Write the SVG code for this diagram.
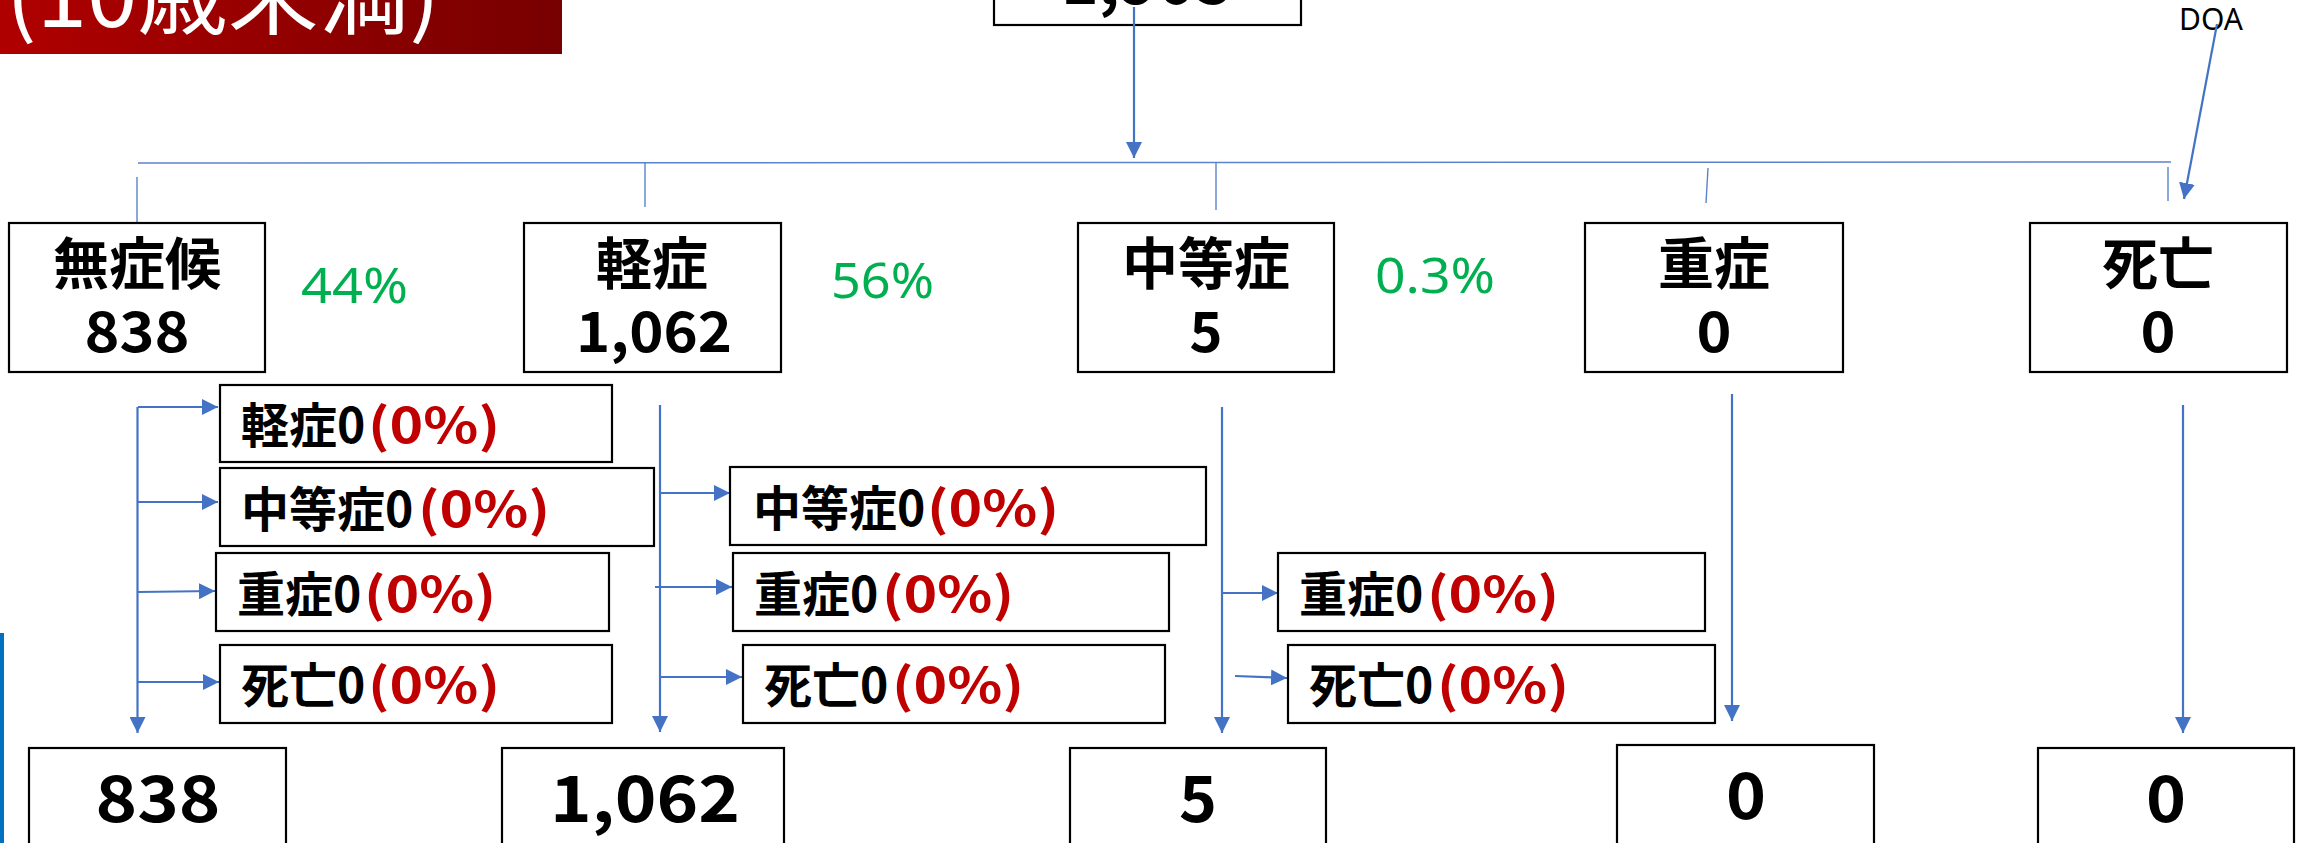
<svg xmlns="http://www.w3.org/2000/svg" width="2299" height="843" viewBox="0 0 2299 843">
<defs>
<linearGradient id="bannerGrad" x1="0" y1="0" x2="1" y2="0">
<stop offset="0" stop-color="#B00000"/>
<stop offset="1" stop-color="#770000"/>
</linearGradient>
<marker id="ah" markerUnits="userSpaceOnUse" markerWidth="16" markerHeight="16" viewBox="0 0 16 16" refX="16" refY="8" orient="auto">
<path d="M0,0 L16,8 L0,16 z" fill="#4472C4"/>
</marker>
</defs>
<style>
.box{fill:#FFFFFF;stroke:#000000;stroke-width:2.2}
.lbl{font-family:"Noto Sans CJK JP","Noto Sans",sans-serif;font-weight:700;fill:#000000}
.big{font-size:56px;text-anchor:middle}
.bot{font-size:64px;text-anchor:middle}
.sub{font-size:48px}
.red{fill:#C00000}
.pct{font-family:"Noto Sans","Noto Sans CJK JP",sans-serif;font-size:50px;fill:#00B050}
.arr{stroke:#4472C4;stroke-width:2.2;fill:none;marker-end:url(#ah)}
.thin{stroke:#5B83CC;stroke-width:1.4;fill:none}
</style>
<rect width="2299" height="843" fill="#FFFFFF"/>

<g id="title">
<rect x="0" y="0" width="562" height="54" fill="url(#bannerGrad)"/>
<text x="6" y="27" font-family="Noto Sans CJK JP, sans-serif" font-size="88" fill="#FFFFFF" textLength="434" lengthAdjust="spacingAndGlyphs">(10歳未満)</text>
</g>

<g id="total">
<rect class="box" x="994" y="-20" width="307" height="45"/>
<text class="lbl bot" x="1147" y="4">1,905</text>
</g>

<g id="doa">
<text x="2179" y="30" font-family="Noto Sans, sans-serif" font-size="30" fill="#000000">DOA</text>
</g>

<g id="connectors">
<line class="thin" x1="138" y1="163" x2="2171" y2="162"/>
<line class="arr" x1="1134" y1="7" x2="1134" y2="158"/>
<line class="arr" x1="2217" y1="24" x2="2184" y2="199"/>
<line class="thin" x1="137" y1="177" x2="137" y2="222"/>
<line class="thin" x1="645" y1="162" x2="645" y2="207"/>
<line class="thin" x1="1216" y1="163" x2="1216" y2="210"/>
<line class="thin" x1="1708" y1="168" x2="1706" y2="203"/>
<line class="thin" x1="2168" y1="167" x2="2168" y2="201"/>

<line class="arr" x1="137.5" y1="407" x2="137.5" y2="733"/>
<line class="arr" x1="138" y1="407" x2="218" y2="407"/>
<line class="arr" x1="138" y1="502" x2="218" y2="502"/>
<line class="arr" x1="138" y1="592" x2="215" y2="591"/>
<line class="arr" x1="138" y1="682" x2="219" y2="682"/>

<line class="arr" x1="660" y1="405" x2="660" y2="732"/>
<line class="arr" x1="660" y1="493" x2="730" y2="493"/>
<line class="arr" x1="655" y1="587" x2="732" y2="587"/>
<line class="arr" x1="660" y1="677" x2="742" y2="677"/>

<line class="arr" x1="1222" y1="407" x2="1222" y2="733"/>
<line class="arr" x1="1222" y1="593" x2="1278" y2="593"/>
<line class="arr" x1="1235" y1="676" x2="1287" y2="678"/>

<line class="arr" x1="1732" y1="394" x2="1732" y2="721"/>
<line class="arr" x1="2183" y1="405" x2="2183" y2="733"/>
</g>

<g id="pct-labels">
<text class="pct" x="301" y="303" textLength="107" lengthAdjust="spacingAndGlyphs">44%</text>
<text class="pct" x="831" y="298" textLength="103" lengthAdjust="spacingAndGlyphs">56%</text>
<text class="pct" x="1375" y="293" textLength="120" lengthAdjust="spacingAndGlyphs">0.3%</text>
</g>

<g id="n-asym">
<rect class="box" x="9" y="223" width="256" height="149"/>
<text class="lbl big" x="137" y="284">無症候</text>
<text class="lbl big" x="137" y="352" textLength="105" lengthAdjust="spacingAndGlyphs">838</text>
</g>
<g id="n-mild">
<rect class="box" x="524" y="223" width="257" height="149"/>
<text class="lbl big" x="652" y="284">軽症</text>
<text class="lbl big" x="654" y="352" textLength="156" lengthAdjust="spacingAndGlyphs">1,062</text>
</g>
<g id="n-moderate">
<rect class="box" x="1078" y="223" width="256" height="149"/>
<text class="lbl big" x="1206" y="284">中等症</text>
<text class="lbl big" x="1206" y="352" textLength="33" lengthAdjust="spacingAndGlyphs">5</text>
</g>
<g id="n-severe">
<rect class="box" x="1585" y="223" width="258" height="149"/>
<text class="lbl big" x="1714" y="284">重症</text>
<text class="lbl big" x="1714" y="352" textLength="35" lengthAdjust="spacingAndGlyphs">0</text>
</g>
<g id="n-death">
<rect class="box" x="2030" y="223" width="257" height="149"/>
<text class="lbl big" x="2158" y="284">死亡</text>
<text class="lbl big" x="2158" y="352" textLength="35" lengthAdjust="spacingAndGlyphs">0</text>
</g>

<g id="a1">
<rect class="box" x="220" y="385" width="392" height="77"/>
<text class="lbl sub" x="241" y="443">軽症0<tspan class="red" x="368" textLength="132" lengthAdjust="spacingAndGlyphs">(0%)</tspan></text>
</g>
<g id="a2">
<rect class="box" x="220" y="468" width="434" height="78"/>
<text class="lbl sub" x="241" y="527">中等症0<tspan class="red" x="418" textLength="132" lengthAdjust="spacingAndGlyphs">(0%)</tspan></text>
</g>
<g id="a3">
<rect class="box" x="216" y="553" width="393" height="78"/>
<text class="lbl sub" x="237" y="612">重症0<tspan class="red" x="364" textLength="132" lengthAdjust="spacingAndGlyphs">(0%)</tspan></text>
</g>
<g id="a4">
<rect class="box" x="220" y="645" width="392" height="78"/>
<text class="lbl sub" x="241" y="703">死亡0<tspan class="red" x="368" textLength="132" lengthAdjust="spacingAndGlyphs">(0%)</tspan></text>
</g>

<g id="b1">
<rect class="box" x="730" y="467" width="476" height="78"/>
<text class="lbl sub" x="753" y="526">中等症0<tspan class="red" x="927" textLength="132" lengthAdjust="spacingAndGlyphs">(0%)</tspan></text>
</g>
<g id="b2">
<rect class="box" x="733" y="553" width="436" height="78"/>
<text class="lbl sub" x="754" y="612">重症0<tspan class="red" x="882" textLength="132" lengthAdjust="spacingAndGlyphs">(0%)</tspan></text>
</g>
<g id="b3">
<rect class="box" x="743" y="645" width="422" height="78"/>
<text class="lbl sub" x="764" y="703">死亡0<tspan class="red" x="892" textLength="132" lengthAdjust="spacingAndGlyphs">(0%)</tspan></text>
</g>

<g id="c1">
<rect class="box" x="1278" y="553" width="427" height="78"/>
<text class="lbl sub" x="1299" y="612">重症0<tspan class="red" x="1427" textLength="132" lengthAdjust="spacingAndGlyphs">(0%)</tspan></text>
</g>
<g id="c2">
<rect class="box" x="1288" y="645" width="427" height="78"/>
<text class="lbl sub" x="1309" y="703">死亡0<tspan class="red" x="1437" textLength="132" lengthAdjust="spacingAndGlyphs">(0%)</tspan></text>
</g>

<g id="r-asym">
<rect class="box" x="29" y="748" width="257" height="120"/>
<text class="lbl bot" x="158" y="822" textLength="125" lengthAdjust="spacingAndGlyphs">838</text>
</g>
<g id="r-mild">
<rect class="box" x="502" y="748" width="282" height="120"/>
<text class="lbl bot" x="645" y="822" textLength="190" lengthAdjust="spacingAndGlyphs">1,062</text>
</g>
<g id="r-moderate">
<rect class="box" x="1070" y="748" width="256" height="120"/>
<text class="lbl bot" x="1198" y="822" textLength="38" lengthAdjust="spacingAndGlyphs">5</text>
</g>
<g id="r-severe">
<rect class="box" x="1617" y="745" width="257" height="120"/>
<text class="lbl bot" x="1746" y="819" textLength="40" lengthAdjust="spacingAndGlyphs">0</text>
</g>
<g id="r-death">
<rect class="box" x="2038" y="748" width="256" height="120"/>
<text class="lbl bot" x="2166" y="822" textLength="40" lengthAdjust="spacingAndGlyphs">0</text>
</g>

<rect id="side-bar" x="0" y="633" width="4" height="210" fill="#0070C0"/>
</svg>
